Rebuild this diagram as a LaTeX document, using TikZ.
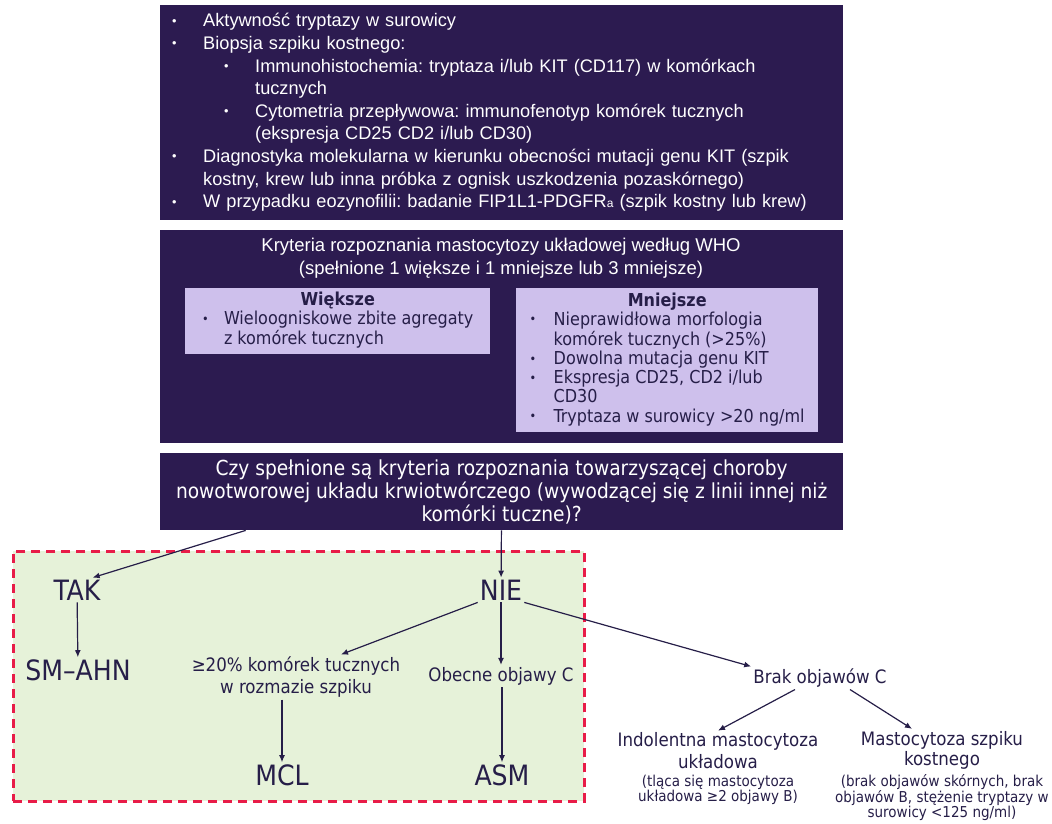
\documentclass[tikz,border=0pt]{standalone}
\usepackage{fontspec}
\setmainfont{Liberation Sans}
\newfontfamily\condfont{DejaVu Sans Condensed}
\usetikzlibrary{arrows.meta}
\definecolor{boxpurple}{RGB}{44,27,80}
\definecolor{lilac}{RGB}{206,192,236}
\definecolor{ink}{RGB}{38,30,72}
\definecolor{leafgreen}{RGB}{230,242,217}
\definecolor{alertred}{RGB}{232,28,72}
\newcommand{\blt}{\raisebox{0.15ex}{\scalebox{0.7}{\textbullet}}}
\frenchspacing
\tikzset{
  darkbox/.style={fill=boxpurple, text=white, anchor=north west, inner sep=0pt, minimum width=683},
  lilacbox/.style={fill=lilac, text=ink, anchor=north west, inner sep=0pt, font=\condfont\fontsize{17.8}{19}\selectfont},
  leaf/.style={text=ink, font=\condfont\fontsize{28}{30}\selectfont, inner sep=2pt},
  crit/.style={text=ink, font=\condfont\fontsize{18.5}{22}\selectfont, align=center, inner sep=2pt},
  note/.style={text=ink, font=\condfont\fontsize{15}{15.5}\selectfont, align=center, inner sep=1pt},
  link/.style={draw=ink, line width=1.2pt, -{Latex[length=7pt,width=6pt]}},
}
\begin{document}
\begin{tikzpicture}[x=1pt, y=-1pt]
\useasboundingbox (0,0) rectangle (1052,823);
\node[darkbox, minimum height=215, text width=663, align=left, font=\fontsize{18.2}{22.6}\selectfont] (tests) at (160,5) {%
\begin{tabular}{@{}p{33pt}@{}p{52pt}@{}l@{}}
\hspace*{2pt}\blt & \multicolumn{2}{@{}l@{}}{Aktywność tryptazy w surowicy}\\
\hspace*{2pt}\blt & \multicolumn{2}{@{}l@{}}{Biopsja szpiku kostnego:}\\
 & \hspace*{21pt}\blt & Immunohistochemia: tryptaza i/lub KIT (CD117) w komórkach\\
 & & tucznych\\
 & \hspace*{21pt}\blt & Cytometria przepływowa: immunofenotyp komórek tucznych\\
 & & (ekspresja CD25 CD2 i/lub CD30)\\
\hspace*{2pt}\blt & \multicolumn{2}{@{}l@{}}{Diagnostyka molekularna w kierunku obecności mutacji genu KIT (szpik}\\
 & \multicolumn{2}{@{}l@{}}{kostny, krew lub inna próbka z ognisk uszkodzenia pozaskórnego)}\\
\hspace*{2pt}\blt & \multicolumn{2}{@{}l@{}}{W przypadku eozynofilii: badanie FIP1L1-PDGFR{\fontsize{12}{12}\selectfont a} (szpik kostny lub krew)}\\
\end{tabular}};
\node[darkbox, minimum height=213] (who) at (160,230) {};
\node[text=white, align=center, font=\fontsize{18.5}{23}\selectfont] (whotitle) at (501,258) {Kryteria rozpoznania mastocytozy układowej według WHO\\(spełnione 1 większe i 1 mniejsze lub 3 mniejsze)};
\node[lilacbox, minimum width=305, minimum height=66] (major) at (185,288) {%
\begin{tabular}{@{}p{22pt}@{}l@{}}
\multicolumn{2}{@{}c@{}}{\bfseries Większe}\\
\blt & Wieloogniskowe zbite agregaty\\
 & z komórek tucznych\\
\end{tabular}};
\node[lilacbox, minimum width=302, minimum height=144] (minor) at (516,288) {%
\begin{tabular}{@{}p{24pt}@{}l@{}}
\multicolumn{2}{@{}c@{}}{\bfseries Mniejsze}\\
\blt & Nieprawidłowa morfologia\\
 & komórek tucznych (>25\%)\\
\blt & Dowolna mutacja genu KIT\\
\blt & Ekspresja CD25, CD2 i/lub\\
 & CD30\\
\blt & Tryptaza w surowicy >20 ng/ml\\
\end{tabular}};
\node[darkbox, minimum height=77, align=center, font=\condfont\fontsize{20.7}{23}\selectfont] (comorbid) at (160,453) {Czy spełnione są kryteria rozpoznania towarzyszącej choroby\\nowotworowej układu krwiotwórczego (wywodzącej się z linii innej niż\\komórki tuczne)?};
\node[fill=leafgreen, draw=alertred, line width=2.5pt, dash pattern=on 9pt off 6pt, anchor=north west, minimum width=571, minimum height=250] (zone) at (12,550) {};
\node[leaf] (tak) at (77,590) {TAK};
\node[leaf] (smahn) at (78,670) {SM–AHN};
\node[leaf] (nie) at (501,590) {NIE};
\node[crit] (mast20) at (296,677) {≥20\% komórek tucznych\\w rozmazie szpiku};
\node[crit] (cpos) at (501,676) {Obecne objawy C};
\node[leaf] (mcl) at (282,775) {MCL};
\node[leaf] (asm) at (502,775) {ASM};
\node[crit] (cneg) at (820,678) {Brak objawów C};
\node[crit] (isd) at (718,751) {Indolentna mastocytoza\\układowa};
\node[note] (isdnote) at (718,790) {(tląca się mastocytoza\\układowa ≥2 objawy B)};
\node[crit, font=\condfont\fontsize{18.5}{20}\selectfont] (bmm) at (942,750) {Mastocytoza szpiku\\kostnego};
\node[note] (bmmnote) at (942,798) {(brak objawów skórnych, brak\\objawów B, stężenie tryptazy w\\surowicy <125 ng/ml)};
\draw[link] ([xshift=-256pt]comorbid.south) -- ([xshift=-10pt]tak.north east);
\draw[link] (comorbid) -- (nie);
\draw[link] (tak) -- (smahn);
\draw[link] (nie.south west) -- ([xshift=45pt]mast20.north);
\draw[link] (nie) -- (cpos);
\draw[link] (nie.south east) -- (cneg.north west);
\draw[link] (mast20.south -| mcl) -- (mcl);
\draw[link] (cpos.south -| asm) -- (asm);
\draw[link] ([xshift=-25pt]cneg.south) -- (isd.north);
\draw[link] ([xshift=30pt]cneg.south) -- ([xshift=-30pt]bmm.north);
\end{tikzpicture}
\end{document}
